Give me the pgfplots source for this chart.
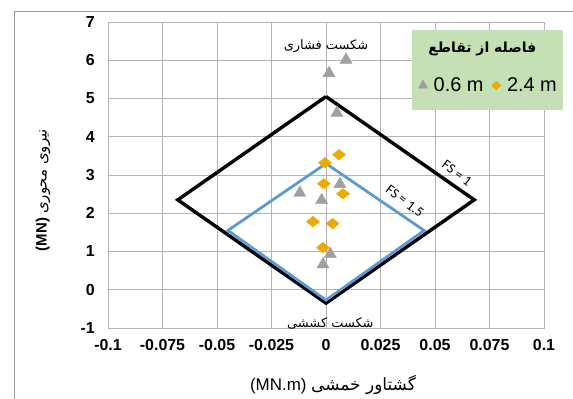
\documentclass[border=0pt]{standalone}
\usepackage{pgfplots}
\pgfplotsset{compat=1.18}
\usepackage{fontspec}
\setmainfont{Liberation Sans}
\newfontfamily\fa[Script=Arabic]{DejaVu Sans}
\newfontfamily\calfont{Carlito}
\TeXXeTstate=1

\definecolor{gridgray}{HTML}{B4B4B4}
\definecolor{framegray}{HTML}{9A9A9A}
\definecolor{fsblue}{HTML}{5B9BD5}
\definecolor{trigray}{HTML}{A0A0A0}
\definecolor{diagold}{HTML}{EDAA00}
\definecolor{legendgreen}{HTML}{C5E0B4}

\begin{document}
\begin{tikzpicture}
% outer chart frame
\draw[framegray, line width=0.9bp] (14bp,-10bp) -- (14bp,388bp) -- (620bp,388bp);
\begin{axis}[
  at={(108bp,71bp)}, anchor=south west,
  scale only axis, width=436bp, height=306bp,
  xmin=-0.1, xmax=0.1, ymin=-1, ymax=7,
  xtick={-0.1,-0.075,-0.05,-0.025,0,0.025,0.05,0.075,0.1},
  xticklabels={-0.1,-0.075,-0.05,-0.025,0,0.025,0.05,0.075,0.1},
  ytick={-1,0,1,2,3,4,5,6,7},
  yticklabels={-1,0,1,2,3,4,5,6,7},
  /pgf/number format/assume math mode=true,
  grid=major,
  major grid style={gridgray, line width=0.8bp},
  axis line style={gridgray, line width=0.8bp},
  major tick length=0pt,
  tick label style={font=\fontsize{16}{19}\selectfont\bfseries},
  xticklabel style={anchor=north, inner sep=0pt, yshift=-11bp},
  yticklabel style={anchor=east, inner sep=0pt, xshift=-13bp},
  clip=false,
  legend style={at={(axis cs:0.0422,5.34)}, anchor=west, fill=none, draw=none,
    font=\fontsize{20}{23}\selectfont, inner sep=0pt,
    nodes={inner sep=0pt},
    /tikz/every odd column/.append style={column sep=6bp},
    /tikz/every even column/.append style={column sep=8bp}},
  legend columns=2,
  legend cell align=left,
]
% legend panel background
\fill[legendgreen] (axis cs:0.0394,6.78) rectangle (axis cs:0.1087,4.69);
\node[font=\fontsize{14}{16}\selectfont] at (axis cs:0.0717,6.3) {\fa\bfseries\beginR فاصله از تقاطع\endR};

% failure envelopes
\addplot[black, line width=3.4bp, line join=miter, forget plot] coordinates {
  (0,5.05) (0.068,2.35) (0,-0.35) (-0.068,2.35) (0,5.05)};
\addplot[fsblue, line width=2.8bp, line join=miter, forget plot] coordinates {
  (0,3.3) (0.045,1.55) (0,-0.27) (-0.045,1.55) (0,3.3)};

% measured load points
\addplot[only marks, mark=triangle*, mark size=7bp, color=trigray, forget plot] coordinates {
  (0.0092,6.01) (0.0014,5.66) (0.005,4.62) (-0.012,2.53)
  (0.0064,2.76) (-0.002,2.34) (0.002,0.93) (-0.0014,0.66)};
\addplot[only marks, mark=diamond*, mark size=5.3bp, mark options={xscale=1.65}, color=diagold, forget plot] coordinates {
  (-0.0005,3.32) (0.006,3.53) (-0.001,2.77) (0.0078,2.51)
  (-0.006,1.78) (0.003,1.73) (-0.0014,1.10)};

% legend keys (smaller markers than in the plot)
\addlegendimage{only marks, mark=triangle*, mark size=5.5bp, color=trigray}
\addlegendentry{0.6 m}
\addlegendimage{only marks, mark=diamond*, mark size=4.2bp, mark options={xscale=1.5}, color=diagold}
\addlegendentry{2.4 m}

% annotations
\node[font=\fontsize{13}{15}\selectfont] at (axis cs:0,6.37) {\fa\beginR شکست فشاری\endR};
\node[font=\fontsize{13}{15}\selectfont] at (axis cs:0.002,-0.88) {\fa\beginR شکست کششی\endR};
\node[font=\calfont\fontsize{14}{16}\selectfont, rotate=-37] at (axis cs:0.0601,3.05) {FS = 1};
\node[font=\calfont\fontsize{14}{16}\selectfont, rotate=-37] at (axis cs:0.0362,2.32) {FS = 1.5};
\end{axis}
% axis titles
\node[font=\fontsize{17}{20}\selectfont] at (333bp,14bp) {(MN.m) {\fa\beginR گشتاور خمشی\endR}};
\node[font=\fontsize{15}{18}\selectfont, rotate=90] at (43bp,209bp) {\textbf{(MN)} {\fa\beginR نیروی محوری\endR}};
\pgfresetboundingbox
\path[use as bounding box] (0bp,0bp) rectangle (573bp,399bp);
\end{tikzpicture}
\end{document}
